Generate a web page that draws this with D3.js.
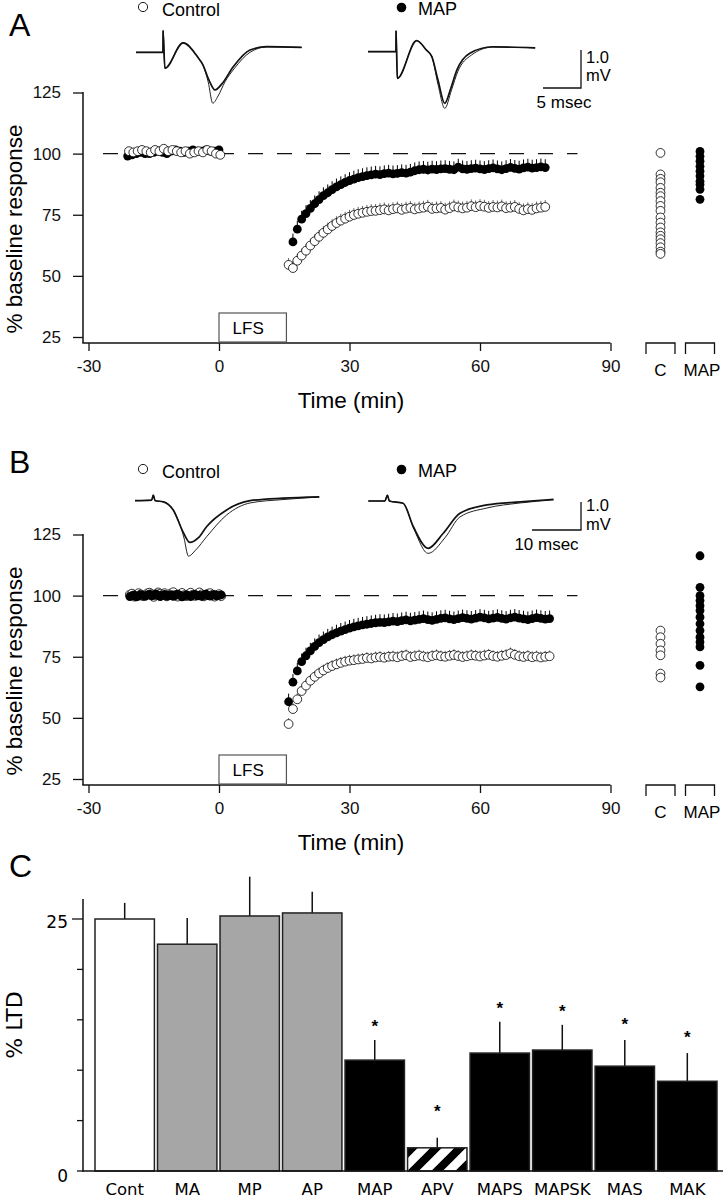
<!DOCTYPE html>
<html><head><meta charset="utf-8">
<script src="https://cdn.jsdelivr.net/npm/d3@7"></script>
<style>body{margin:0;background:#fff}svg{display:block}</style>
</head><body>
<script>
// ---------------- DATA ----------------
const timeTicks = [-30, 0, 30, 60, 90];
const respTicks = [25, 50, 75, 100, 125];
const groupCols = ["C", "MAP"];

// Panel A time courses (% baseline), sampled every minute
const aBaseStart = -21;
const aCtlBase = [101,100.5,101,101.5,101,100.5,101.5,101,102,101,101.5,101,100.5,101,100,100.5,101,100.5,101.5,101,100,99.5];
const aMapBase = [99,99.5,100,100.5,100,100,100.5,101,100.5,100,101,101.5,101,100.5,101,101.5,101,101,101.5,101,101,101.5];
const aCtlPostStart = 16;
const aCtlPost = [54.5,53.2,56.2,58.3,60.3,62.4,64.2,66.0,67.6,69.0,
  70.4,71.6,72.6,73.4,74.2,74.9,75.4,75.8,76.2,76.5,
  76.6,76.9,77.2,76.8,77.3,77.6,77.0,77.5,77.8,77.2,
  77.6,77.9,78.3,77.4,77.6,77.8,77.1,77.7,78.4,78.0,
  77.6,77.9,78.5,78.1,78.6,78.3,77.8,78.2,78.0,78.4,
  77.7,77.9,78.2,77.4,76.8,77.3,77.0,77.6,77.9,78.2];
const aMapPostStart = 17;
const aMapPost = [63.9,69.1,73.2,75.5,77.6,79.5,81.2,82.8,84.0,
  85.3,86.4,87.3,88.2,89.0,89.6,90.2,90.6,91.0,91.3,
  91.6,91.4,91.8,92.0,91.7,91.9,92.2,92.0,92.4,93.0,
  93.4,93.6,93.3,93.7,93.5,93.8,93.9,93.6,93.4,94.5,
  93.8,93.6,93.9,94.1,93.8,93.5,93.9,94.2,93.8,93.4,
  93.9,94.4,94.0,93.7,94.2,94.5,94.1,94.3,94.6,94.3];
const aCtlSem = 1.0, aMapSem = 1.6;
// Panel A individual experiments
const aCtlCells = [100.3,91.5,89.7,88.3,86.0,84.0,82.6,80.6,78.6,76.6,73.9,71.8,69.8,67.8,66.4,65.0,63.4,61.7,59.9,59.0];
const aMapCells = [100.9,98.9,96.9,94.8,92.8,90.8,88.7,87.4,85.4,81.3];

// Panel B time courses
const bBaseStart = -20.5;
const bCtlBase = [100.4,100.8,99.6,100.2,101,100.5,99.8,100.3,100.9,101.2,100.6,99.5,100.1,101.3,100.8,100.2,101.0,99.7,100.4,100.9,101.4,100.3,99.6,100.5,101.1,100.2,99.8,100.6,101.2,100.4,99.9,100.7,101.3,100.5,99.7,100.2,100.8,101.0,100.3,99.6,100.1,100.6,99.8];
const bMapBase = [99.6,100.0,100.3,99.5,99.8,100.4,100.1,99.7,100.2,100.6,99.9,100.3,100.7,100.1,99.6,100.2,100.5,99.8,100.0,100.4,99.7,100.1,100.6,100.2,99.5,99.9,100.3,100.0,99.6,100.2,100.5,99.9,100.1,99.7,100.3,100.6,100.0,99.8,100.2,100.4,99.9,100.1,100.3];
const bPostStart = 16;
const bCtlPost = [47.5,53.6,57.6,61.0,63.2,65.2,66.8,68.2,69.4,70.4,
  71.2,71.9,72.5,73.0,73.4,73.6,73.9,74.1,74.5,74.3,
  74.7,74.9,74.6,75.0,75.1,74.8,75.3,75.6,74.9,75.2,
  75.5,75.1,74.8,75.3,75.6,75.2,75.0,75.4,75.7,75.3,
  74.9,75.2,75.6,75.4,75.1,75.5,75.8,75.3,75.0,75.4,
  75.7,76.4,75.8,75.2,74.9,75.3,74.8,75.1,74.7,75.0,75.2];
const bMapPost = [56.6,64.6,69.2,73.0,75.4,77.4,79.2,80.8,82.0,83.1,
  84.0,84.8,85.5,86.1,86.7,87.2,87.6,88.0,88.3,88.6,
  88.9,89.1,89.0,89.3,89.6,89.4,89.8,90.1,89.7,90.0,
  90.3,90.6,90.2,89.9,90.3,90.7,90.9,90.5,90.2,90.6,
  91.0,90.7,90.4,90.8,91.2,90.9,90.5,90.8,91.1,90.7,
  90.4,90.9,91.2,90.8,90.5,90.2,90.6,91.0,90.7,90.4,90.6];
const bCtlSem = 0.6, bMapSem = 1.5;
const bCtlCells = [85.7,83.0,80.3,77.6,75.6,68.1,66.5];
const bMapCells = [116.3,103.4,100.0,98.0,95.9,93.9,91.2,88.5,85.7,83.0,81.0,79.0,71.5,62.7];

// Field potential traces: [ms, mV]
const trAcThick = [[0,0],[3.55,0],[3.56,0.57],[3.8,-0.42],[6.2,0.25],[8.2,-0.15],[8.8,-0.33],[9.6,-0.73],[10.4,-0.99],[11.3,-0.83],[12.8,-0.38],[15.0,0.06],[17.2,0.15],[21.8,0.13]];
const trAcThin  = [[0,0],[3.55,0],[3.56,0.57],[3.8,-0.42],[6.2,0.25],[8.2,-0.15],[8.8,-0.33],[9.5,-0.78],[10.1,-1.34],[10.8,-1.15],[11.7,-0.78],[13.0,-0.41],[15.0,0.0],[17.2,0.14],[21.8,0.13]];
const trAmThick = [[0,0],[3.68,0],[3.69,0.55],[3.86,-0.7],[6.4,0.29],[7.7,0.04],[8.4,-0.13],[9.2,-0.74],[10.1,-1.36],[10.9,-0.96],[11.7,-0.48],[13.4,-0.04],[16.4,0.13],[22.0,0.1]];
const trAmThin  = [[0,0],[3.68,0],[3.69,0.55],[3.86,-0.7],[6.4,0.29],[7.7,0.04],[8.4,-0.13],[9.2,-0.85],[10.1,-1.49],[11.0,-1.0],[11.8,-0.53],[13.6,-0.09],[16.4,0.12],[22.0,0.1]];
const trBcThick = [[0,0],[3.4,0.02],[3.73,0.2],[4.1,0],[5.8,-0.04],[7.8,-0.33],[9.9,-1.15],[11.2,-1.49],[12.9,-1.33],[14.6,-0.93],[18.7,-0.33],[23.5,0],[30.2,0.09],[37.6,0.14]];
const trBcThin  = [[0,0],[3.4,0.02],[3.73,0.2],[4.1,0],[5.8,-0.04],[7.8,-0.33],[10.0,-1.33],[10.9,-1.98],[12.4,-1.76],[14.6,-1.29],[18.7,-0.51],[23.5,-0.08],[30.2,0.04],[37.6,0.13]];
const trBmThick = [[0,0],[3.4,0],[3.9,0.21],[4.3,0],[7.1,-0.08],[9.2,-0.92],[12.2,-1.69],[15.3,-1.15],[18.7,-0.44],[24.2,-0.14],[31.0,-0.03],[37.8,0.06]];
const trBmThin  = [[0,0],[3.4,0],[3.9,0.21],[4.3,0],[7.1,-0.08],[9.3,-1.0],[12.2,-1.87],[15.7,-1.3],[18.7,-0.57],[24.2,-0.25],[31.0,-0.07],[37.8,0.04]];

// Panel C
const cats = ["Cont","MA","MP","AP","MAP","APV","MAPS","MAPSK","MAS","MAK"];
const ltd = [25.0,22.5,25.3,25.6,11.0,2.3,11.7,12.0,10.4,8.9];
const ltdErr = [1.6,2.6,3.9,2.1,2.0,1.0,3.1,2.5,2.6,2.8];
const starLevels = [null,null,null,null,14.8,6.35,16.6,16.3,15.0,13.7];
const ltdTicks = [0,5,10,15,20,25];

// ---------------- DRAW ----------------
const SANS = "'Liberation Sans', Arial, Helvetica, sans-serif";
const DJV = "'DejaVu Sans', Verdana, sans-serif";
const svg = d3.select("body").append("svg").attr("width", 723).attr("height", 1199);

const defs = svg.append("defs");
const pat = defs.append("pattern").attr("id","hatch").attr("patternUnits","userSpaceOnUse")
  .attr("width",24).attr("height",24);
pat.append("rect").attr("width",24).attr("height",24).attr("fill","#fff");
pat.append("path").attr("d","M-6,6 L6,-6 M0,24 L24,0 M18,30 L30,18")
  .attr("stroke","#000").attr("stroke-width",8);

function timePanel(o) {
  const g = svg.append("g");
  const x = d3.scaleLinear().domain([-30, 90]).range([88.5, 610.5]);
  const y = d3.scaleLinear().domain([25, 125]).range([o.y25, o.y25 - 244.5]);
  const axisY = o.y25 + 6;

  // panel letter
  g.append("text").attr("x", 9).attr("y", o.letterY).attr("font-family", SANS)
    .attr("font-size", 32).text(o.letter);

  // legend
  g.append("circle").attr("cx", 143).attr("cy", o.legY1).attr("r", 4.6)
    .attr("fill", "#fff").attr("stroke", "#000").attr("stroke-width", 0.9);
  g.append("text").attr("x", 162).attr("y", o.legY1 + 9).attr("font-family", SANS)
    .attr("font-size", 18).text("Control");
  g.append("circle").attr("cx", 401.5).attr("cy", o.legY2).attr("r", 4.8).attr("fill", "#000");
  g.append("text").attr("x", 418).attr("y", o.legY2 + 7).attr("font-family", SANS)
    .attr("font-size", 18).text("MAP");

  // traces
  o.traces.forEach(t => {
    const tx = d3.scaleLinear().domain([0, 1]).range([t.x0, t.x0 + t.pxms]);
    const ty = d3.scaleLinear().domain([0, 1]).range([t.y0, t.y0 - t.pxmv]);
    const line = d3.line().x(d => tx(d[0])).y(d => ty(d[1])).curve(d3.curveMonotoneX);
    g.append("path").attr("d", line(t.thin)).attr("fill", "none").attr("stroke", "#222").attr("stroke-width", 1);
    g.append("path").attr("d", line(t.thick)).attr("fill", "none").attr("stroke", "#111").attr("stroke-width", 1.7);
  });
  // scale bar
  const sb = o.scaleBar;
  const sbx = d3.scaleLinear().domain([0, sb.ms]).range([sb.xr - sb.ms * sb.pxms, sb.xr]);
  const sby = d3.scaleLinear().domain([0, 1]).range([sb.yb, sb.yb - sb.pxmv]);
  g.append("path").attr("d", `M${sbx(0)},${sby(0)}H${sbx(sb.ms)}V${sby(1)}`)
    .attr("fill", "none").attr("stroke", "#111").attr("stroke-width", 1.3);
  g.append("text").attr("x", sb.xr + 5).attr("y", sb.y1).attr("font-family", SANS).attr("font-size", 16.5).text("1.0");
  g.append("text").attr("x", sb.xr + 5).attr("y", sb.y2).attr("font-family", SANS).attr("font-size", 16.5).text("mV");
  g.append("text").attr("x", (sbx(0) + sbx(sb.ms)) / 2 + sb.lblDx).attr("y", sb.yb + 20).attr("text-anchor", "middle")
    .attr("font-family", SANS).attr("font-size", 17).text(sb.label);

  // axes
  const yAx = g.append("g").attr("transform", "translate(83,0)")
    .call(d3.axisLeft(y).tickValues(respTicks).tickSize(10).tickPadding(12).tickFormat(d => String(d)));
  yAx.select(".domain").remove();
  yAx.selectAll("text").attr("font-family", SANS).attr("font-size", 17).attr("fill", "#111");
  yAx.selectAll("line").attr("stroke", "#111").attr("stroke-width", 1.3);
  g.append("line").attr("x1", 83).attr("x2", 83).attr("y1", y(125) - 0.5).attr("y2", axisY)
    .attr("stroke", "#111").attr("stroke-width", 1.5);
  const xAx = g.append("g").attr("transform", `translate(0,${axisY})`)
    .call(d3.axisBottom(x).tickValues(timeTicks).tickSize(8).tickPadding(9).tickFormat(d => String(d)));
  xAx.select(".domain").remove();
  xAx.selectAll("text").attr("font-family", SANS).attr("font-size", 17).attr("fill", "#111");
  xAx.selectAll("line").attr("stroke", "#111").attr("stroke-width", 1.3);
  g.append("line").attr("x1", 82.3).attr("x2", x(90)).attr("y1", axisY).attr("y2", axisY)
    .attr("stroke", "#111").attr("stroke-width", 1.5);

  // group brackets
  const gx = d3.scalePoint().domain(groupCols).range([660.5, 700]);
  groupCols.forEach(c => {
    const cx = gx(c);
    g.append("path").attr("d", `M${cx - 14.5},${axisY + 11}V${axisY}H${cx + 14.5}V${axisY + 11}`)
      .attr("fill", "none").attr("stroke", "#111").attr("stroke-width", 1.3);
    g.append("text").attr("x", cx + (c === "MAP" ? 2 : 0)).attr("y", axisY + 33).attr("text-anchor", "middle")
      .attr("font-family", SANS).attr("font-size", 17).text(c);
  });

  g.append("text").attr("x", 351).attr("y", axisY + 65).attr("text-anchor", "middle")
    .attr("font-family", SANS).attr("font-size", 22.5).text("Time (min)");
  g.append("text").attr("transform", `translate(22,${o.y25 - 108}) rotate(-90)`).attr("text-anchor", "middle")
    .attr("font-family", SANS).attr("font-size", 22.5).text("% baseline response");

  // LFS box
  g.append("rect").attr("x", x(0)).attr("y", axisY - 30).attr("width", x(15.5) - x(0)).attr("height", 29)
    .attr("fill", "#fff").attr("stroke", "#555").attr("stroke-width", 1.2);
  g.append("text").attr("x", x(6.7)).attr("y", axisY - 9.5).attr("text-anchor", "middle")
    .attr("font-family", SANS).attr("font-size", 17).text("LFS");

  // dashed 100% line
  g.append("line").attr("x1", 103).attr("x2", x(82.4)).attr("y1", y(100)).attr("y2", y(100))
    .attr("stroke", "#111").attr("stroke-width", 1.4).attr("stroke-dasharray", "15,14");

  const R = 4.4;
  function series(vals, t0, step, filled, sem) {
    const pts = vals.map((v, i) => ({ t: t0 + i * step, v }));
    if (sem) {
      g.append("g").selectAll("line").data(pts).join("line")
        .attr("x1", d => x(d.t)).attr("x2", d => x(d.t))
        .attr("y1", d => y(d.v - sem)).attr("y2", d => y(d.v + sem) - R)
        .attr("stroke", filled ? "#000" : "#666").attr("stroke-width", 1);
    }
    g.append("g").selectAll("circle").data(pts).join("circle")
      .attr("cx", d => x(d.t)).attr("cy", d => y(d.v)).attr("r", R)
      .attr("fill", filled ? "#000" : "#fff").attr("stroke", "#000").attr("stroke-width", filled ? 0 : 0.8);
  }
  o.drawOrder.forEach(s => series(s.vals, s.t0, s.step, s.filled, s.sem));

  // individual experiments
  function cells(vals, col, filled) {
    g.append("g").selectAll("circle").data(vals).join("circle")
      .attr("cx", gx(col)).attr("cy", d => y(d)).attr("r", 4.4)
      .attr("fill", filled ? "#000" : "#fff").attr("stroke", "#000").attr("stroke-width", filled ? 0 : 0.8);
  }
  cells(o.ctlCells, "C", false);
  cells(o.mapCells, "MAP", true);
}

timePanel({
  letter: "A", letterY: 36, legY1: 7, legY2: 7.5, y25: 337,
  traces: [
    { x0: 136, y0: 52.3, pxms: 7.6, pxmv: 38, thick: trAcThick, thin: trAcThin },
    { x0: 368, y0: 51.7, pxms: 7.6, pxmv: 38, thick: trAmThick, thin: trAmThin }
  ],
  scaleBar: { ms: 5, pxms: 7.6, pxmv: 38, xr: 581, yb: 88, y1: 63, y2: 81, label: "5 msec", lblDx: 2 },
  drawOrder: [
    { vals: aMapBase, t0: aBaseStart, step: 1, filled: true, sem: 0 },
    { vals: aCtlBase, t0: aBaseStart + 0.3, step: 1, filled: false, sem: 0 },
    { vals: aMapPost, t0: aMapPostStart, step: 1, filled: true, sem: aMapSem },
    { vals: aCtlPost, t0: aCtlPostStart, step: 1, filled: false, sem: aCtlSem }
  ],
  ctlCells: aCtlCells, mapCells: aMapCells
});

timePanel({
  letter: "B", letterY: 473, legY1: 469, legY2: 469.5, y25: 779,
  traces: [
    { x0: 135, y0: 500.7, pxms: 4.9, pxmv: 28, thick: trBcThick, thin: trBcThin },
    { x0: 368.3, y0: 501, pxms: 4.9, pxmv: 28, thick: trBmThick, thin: trBmThin }
  ],
  scaleBar: { ms: 10, pxms: 4.9, pxmv: 28, xr: 581, yb: 530, y1: 510.5, y2: 530, label: "10 msec", lblDx: -10 },
  drawOrder: [
    { vals: bCtlBase, t0: bBaseStart, step: 0.5, filled: false, sem: 0 },
    { vals: bMapBase, t0: bBaseStart, step: 0.5, filled: true, sem: 0 },
    { vals: bMapPost, t0: bPostStart, step: 1, filled: true, sem: bMapSem },
    { vals: bCtlPost, t0: bPostStart, step: 1, filled: false, sem: bCtlSem }
  ],
  ctlCells: bCtlCells, mapCells: bMapCells
});

// ---------------- Panel C ----------------
(function () {
  const g = svg.append("g");
  const x = d3.scaleBand().domain(cats).range([95, 717]).paddingInner(0.05).paddingOuter(0);
  const y = d3.scaleLinear().domain([0, 25]).range([1171, 919]);
  const fills = { Cont: "#fff", MA: "#a6a6a6", MP: "#a6a6a6", AP: "#a6a6a6", APV: "url(#hatch)" };

  g.append("text").attr("x", 9).attr("y", 877).attr("font-family", SANS).attr("font-size", 32).text("C");

  const data = cats.map((c, i) => ({ c, v: ltd[i], e: ltdErr[i], s: starLevels[i] }));
  // error bars
  g.append("g").selectAll("line").data(data).join("line")
    .attr("x1", d => x(d.c) + x.bandwidth() / 2).attr("x2", d => x(d.c) + x.bandwidth() / 2)
    .attr("y1", d => y(d.v)).attr("y2", d => y(d.v + d.e))
    .attr("stroke", "#111").attr("stroke-width", 1.5);
  // bars
  g.append("g").selectAll("rect").data(data).join("rect")
    .attr("x", d => x(d.c)).attr("width", x.bandwidth())
    .attr("y", d => y(d.v)).attr("height", d => y(0) - y(d.v))
    .attr("fill", d => fills[d.c] || "#000")
    .attr("stroke", "#222").attr("stroke-width", 1.5);
  // stars
  g.append("g").selectAll("text").data(data.filter(d => d.s != null)).join("text")
    .attr("x", d => x(d.c) + x.bandwidth() / 2).attr("y", d => y(d.s) + 10)
    .attr("text-anchor", "middle").attr("font-family", SANS).attr("font-weight", "bold")
    .attr("font-size", 17).attr("fill", "#000").text("*");

  // axes
  g.append("line").attr("x1", 83).attr("x2", 83).attr("y1", 899).attr("y2", 1171.5)
    .attr("stroke", "#111").attr("stroke-width", 1.5);
  g.append("line").attr("x1", 82.3).attr("x2", 723).attr("y1", 1171).attr("y2", 1171)
    .attr("stroke", "#111").attr("stroke-width", 1.5);
  g.append("g").selectAll("line").data(ltdTicks).join("line")
    .attr("x1", d => d === 25 ? 72 : 77).attr("x2", 83).attr("y1", d => y(d)).attr("y2", d => y(d))
    .attr("stroke", "#111").attr("stroke-width", 1.3);
  g.append("g").selectAll("text").data([0, 25]).join("text")
    .attr("x", 68).attr("y", d => y(d) + (d === 0 ? 11 : 9)).attr("text-anchor", "end")
    .attr("font-family", DJV).attr("font-size", 17).text(d => d);
  g.append("g").selectAll("text").data(cats).join("text")
    .attr("x", d => x(d) + x.bandwidth() / 2).attr("y", 1194.5).attr("text-anchor", "middle")
    .attr("font-family", DJV).attr("font-size", 16.5).text(d => d);
  g.append("text").attr("transform", "translate(22,1025) rotate(-90)").attr("text-anchor", "middle")
    .attr("font-family", DJV).attr("font-size", 22).text("% LTD");
})();
</script>
</body></html>
